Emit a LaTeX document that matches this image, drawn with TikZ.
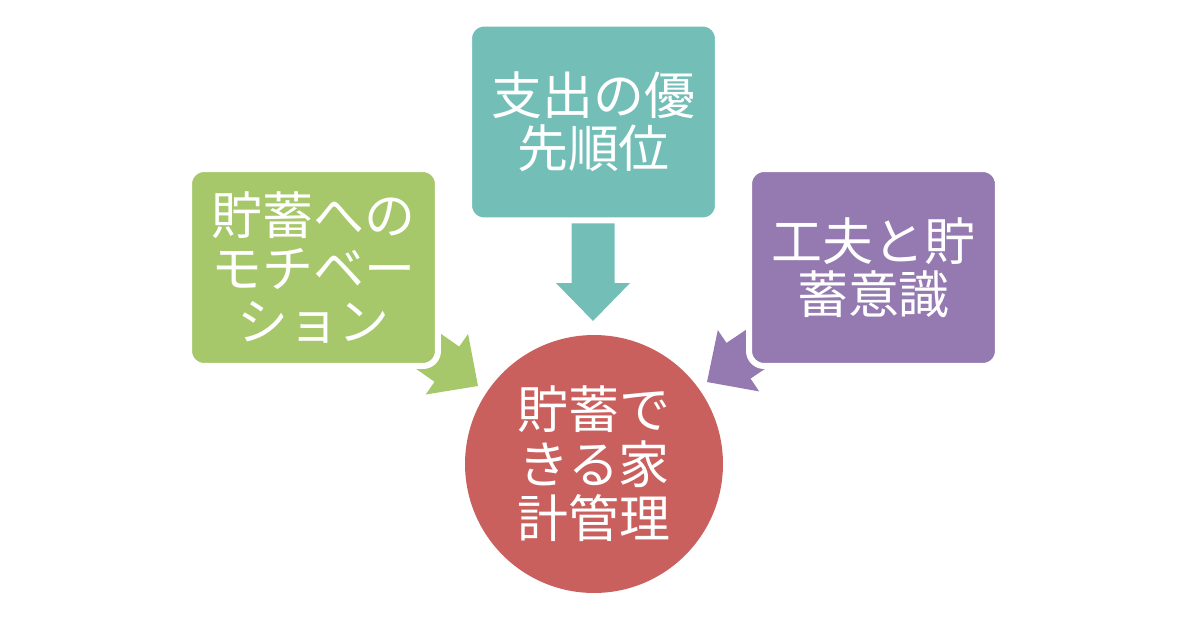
\documentclass[tikz,border=0pt]{standalone}
\usepackage{fontspec}
\newfontfamily\jpfont{Noto Sans CJK JP}

\definecolor{tealbox}{HTML}{73BEB7}
\definecolor{greenbox}{HTML}{A6C86A}
\definecolor{purplebox}{HTML}{947AB1}
\definecolor{redgoal}{HTML}{C9605E}

\tikzset{
  box/.style={rectangle, rounded corners=0.3cm, draw=white, line width=0.12cm,
    minimum width=4.98cm, minimum height=3.94cm, text=white, align=center,
    font=\jpfont\fontsize{29}{30}\selectfont},
  goal/.style={circle, minimum size=5.16cm, inner sep=0pt, text=white, align=center,
    font=\jpfont\fontsize{29}{31}\selectfont}
}
\newcommand{\blockarrow}[3]{%
  \fill[#3, shift={(#1)}, rotate=#2] (0,0) -- (-38,37) -- (-38,21.5) -- (-100,21.5)
    -- (-100,-21.5) -- (-38,-21.5) -- (-38,-37) -- cycle;}

\begin{document}
\begin{tikzpicture}[x=0.02cm, y=-0.02cm]
        \useasboundingbox (0,0) rectangle (1200,619);

        \coordinate (tl) at (478, 386);
        \coordinate (tt) at (593, 321);
        \coordinate (tr) at (707, 382);

        \blockarrow{tl}{-35}{greenbox}
        \blockarrow{tt}{-90}{tealbox}
        \blockarrow{tr}{-146}{purplebox}

        \node[box, fill=tealbox] (prio) at (593.5, 122) {支出の優\\先順位};
        \node[box, fill=greenbox] (motiv) at (313.5, 267.5) {貯蓄への\\モチベー\\ション};
        \node[box, fill=purplebox] (ishiki) at (873.5, 267.5) {工夫と貯\\蓄意識};

        \node[goal, fill=redgoal] (kakei) at (594, 464) {貯蓄で\\きる家\\計管理};
\end{tikzpicture}
\end{document}
